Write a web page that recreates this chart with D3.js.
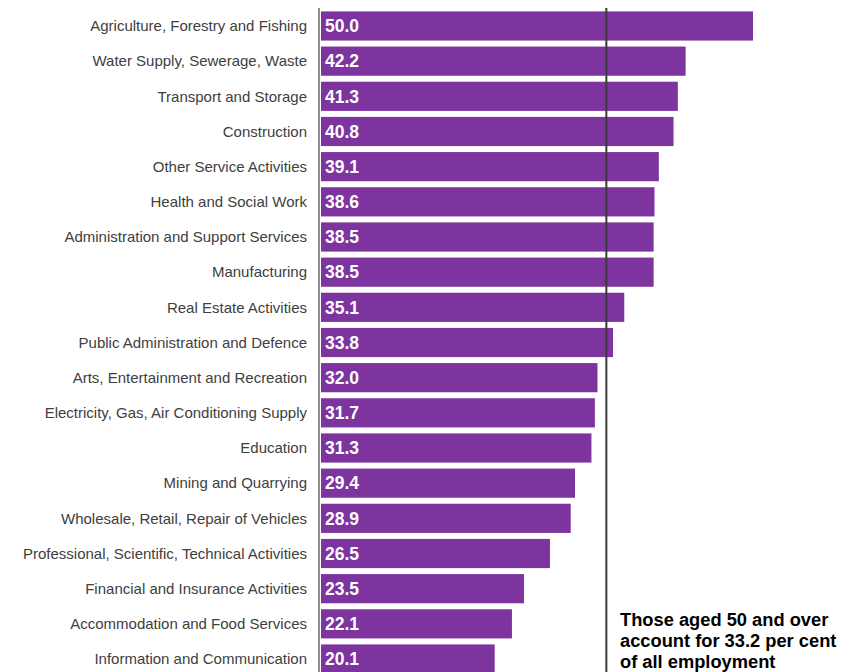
<!DOCTYPE html>
<html><head><meta charset="utf-8">
<script src="https://cdn.jsdelivr.net/npm/d3@7"></script>
<style>body{margin:0;background:#fff;} svg{display:block;}</style>
</head><body>
<svg id="chart" width="850" height="672"></svg>
<script>
const categories = ["Agriculture, Forestry and Fishing","Water Supply, Sewerage, Waste","Transport and Storage","Construction","Other Service Activities","Health and Social Work","Administration and Support Services","Manufacturing","Real Estate Activities","Public Administration and Defence","Arts, Entertainment and Recreation","Electricity, Gas, Air Conditioning Supply","Education","Mining and Quarrying","Wholesale, Retail, Repair of Vehicles","Professional, Scientific, Technical Activities","Financial and Insurance Activities","Accommodation and Food Services","Information and Communication"];
const values = [50.0,42.2,41.3,40.8,39.1,38.6,38.5,38.5,35.1,33.8,32.0,31.7,31.3,29.4,28.9,26.5,23.5,22.1,20.1];
const average = 33.2;
const annotationLines = ["Those aged 50 and over","account for 33.2 per cent","of all employment"];

const svg = d3.select("#chart");
const x0 = 321;
const x = d3.scaleLinear().domain([0, 50]).range([x0, 753]);
const y = d3.scaleBand().domain(categories).range([8.4, 676.6]).paddingInner(0.17).paddingOuter(0.085);

svg.selectAll("rect.bar").data(values).enter().append("rect")
  .attr("class","bar")
  .attr("x", x(0))
  .attr("y", (d,i)=>y(categories[i]))
  .attr("width", d=>x(d)-x(0))
  .attr("height", y.bandwidth())
  .attr("fill", "#7E349E");

svg.selectAll("text.val").data(values).enter().append("text")
  .attr("x", x(0)+4)
  .attr("y", (d,i)=>y(categories[i])+y.bandwidth()/2)
  .attr("dy","0.36em")
  .attr("fill","#fff")
  .attr("font-family","Liberation Sans, Arial, sans-serif")
  .attr("font-weight","bold")
  .attr("font-size","17.5px")
  .text(d=>d.toFixed(1));

svg.selectAll("text.cat").data(categories).enter().append("text")
  .attr("x", 307)
  .attr("y", d=>y(d)+y.bandwidth()/2)
  .attr("dy","0.35em")
  .attr("text-anchor","end")
  .attr("fill","#404040")
  .attr("font-family","Liberation Sans, Arial, sans-serif")
  .attr("font-size","15px")
  .text(d=>d);

// axis line
svg.append("line").attr("x1",319).attr("x2",319).attr("y1",8).attr("y2",672)
  .attr("stroke","#6b6b6b").attr("stroke-width",1.5);

// average line
svg.append("line").attr("x1",x(average)-1.5).attr("x2",x(average)-1.5).attr("y1",8).attr("y2",672)
  .attr("stroke","#3a3a3a").attr("stroke-width",2);

const ann = svg.append("text")
  .attr("x", 620).attr("y", 626)
  .attr("font-family","Liberation Sans, Arial, sans-serif")
  .attr("font-weight","bold").attr("font-size","18.3px").attr("fill","#000");
ann.selectAll("tspan").data(annotationLines).enter().append("tspan")
  .attr("x",620).attr("dy",(d,i)=>i===0?0:20.8).text(d=>d);
</script>
</body></html>
